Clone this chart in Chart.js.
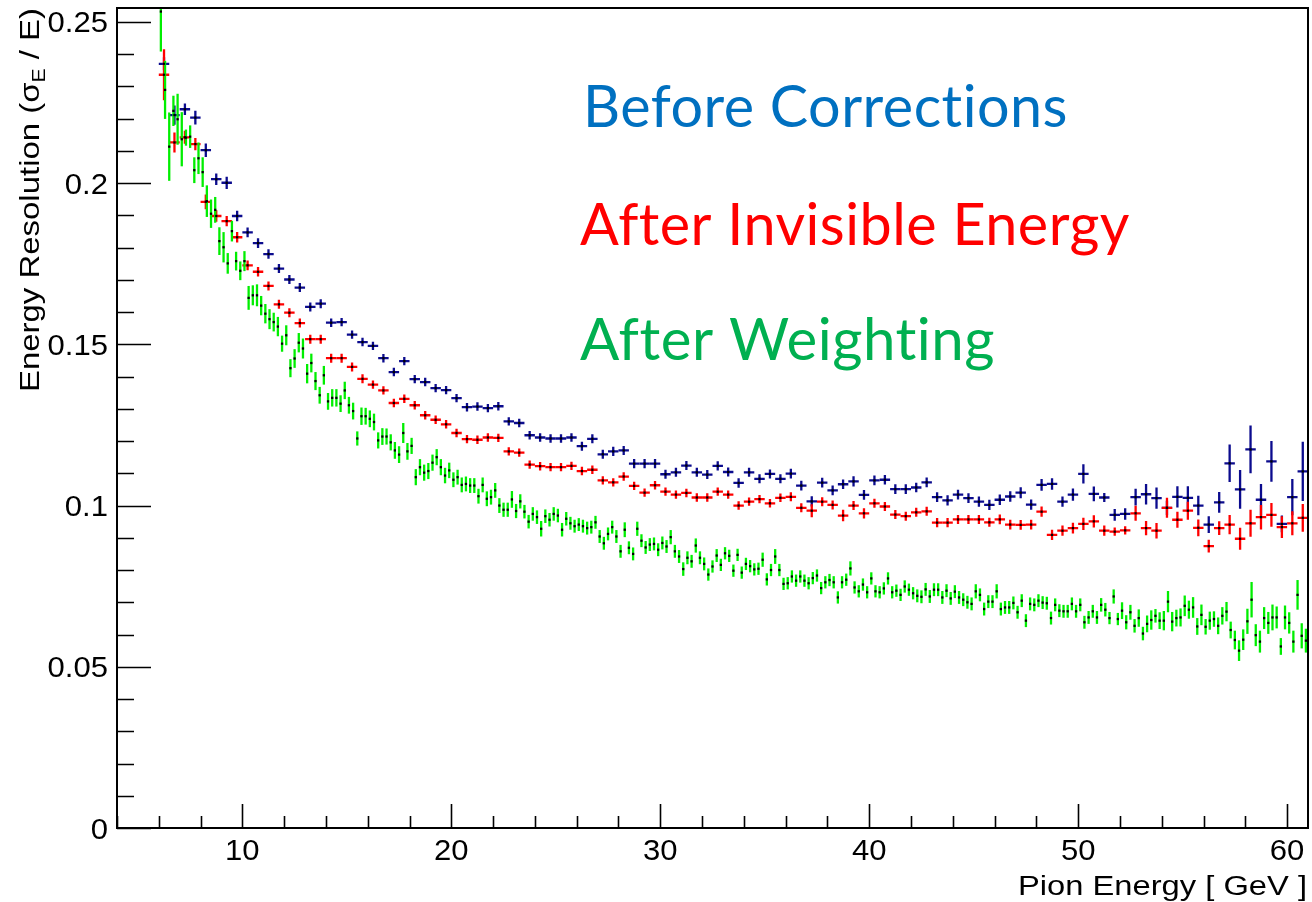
<!DOCTYPE html>
<html>
<head>
<meta charset="utf-8">
<script src="https://cdn.jsdelivr.net/npm/chart.js@4.4.1/dist/chart.umd.min.js"></script>
<style>
  html, body { margin: 0; padding: 0; background: #fff; }
  #wrap { width: 1312px; height: 902px; }
</style>
</head>
<body>
<div id="wrap"><canvas id="resChart" width="1312" height="902"></canvas></div>
<script>
// binning (GeV): blue/red histograms use 0.5 GeV bins, green uses 0.2 GeV bins, all starting at 6 GeV
const binLow = 6.0;
const coarseBinWidth = 0.5;
const fineBinWidth = 0.2;

// axis ranges and tick labels
const xRange = [4, 61];
const yRange = [0, 0.2543];
const xTickLabels = [10, 20, 30, 40, 50, 60];
const yTickLabels = [0, 0.05, 0.1, 0.15, 0.2, 0.25];
const xMinorStep = 2;
const yMinorStep = 0.01;

// Before corrections (blue), sigma_E / E per 0.5 GeV bin
const beforeRes = [
  0.2370, 0.2211, 0.2229, 0.2203, 0.2102, 0.2012, 0.2001, 0.1898, 0.1847, 0.1814,
  0.1780, 0.1735, 0.1701, 0.1676, 0.1616, 0.1626, 0.1567, 0.1569, 0.1530, 0.1507,
  0.1495, 0.1457, 0.1414, 0.1448, 0.1392, 0.1383, 0.1364, 0.1358, 0.1333, 0.1305,
  0.1307, 0.1302, 0.1308, 0.1261, 0.1256, 0.1218, 0.1211, 0.1208, 0.1208, 0.1211,
  0.1184, 0.1207, 0.1159, 0.1168, 0.1171, 0.1130, 0.1130, 0.1130, 0.1097, 0.1103,
  0.1124, 0.1103, 0.1096, 0.1123, 0.1104, 0.1070, 0.1103, 0.1083, 0.1098, 0.1083,
  0.1099, 0.1062, 0.1013, 0.1071, 0.1047, 0.1066, 0.1075, 0.1033, 0.1078, 0.1080,
  0.1051, 0.1051, 0.1056, 0.1072, 0.1026, 0.1016, 0.1034, 0.1023, 0.1012, 0.1002,
  0.1018, 0.1028, 0.1040, 0.1003, 0.1064, 0.1067, 0.1012, 0.1034, 0.1098, 0.1036,
  0.1025, 0.0971, 0.0974, 0.1026, 0.1035, 0.1023, 0.0993, 0.1027, 0.1024, 0.1000,
  0.0941, 0.1010, 0.1131, 0.1050, 0.1174, 0.1018, 0.1137, 0.0943, 0.1026, 0.1106
];
const beforeErr = [
  0.0020, 0.0030, 0.0018, 0.0021, 0.0021, 0.0018, 0.0019, 0.0016, 0.0015, 0.0015,
  0.0015, 0.0014, 0.0014, 0.0014, 0.0014, 0.0014, 0.0013, 0.0013, 0.0013, 0.0013,
  0.0013, 0.0013, 0.0013, 0.0013, 0.0013, 0.0013, 0.0013, 0.0013, 0.0013, 0.0013,
  0.0013, 0.0013, 0.0013, 0.0013, 0.0013, 0.0013, 0.0013, 0.0013, 0.0013, 0.0013,
  0.0014, 0.0014, 0.0014, 0.0014, 0.0014, 0.0014, 0.0014, 0.0014, 0.0014, 0.0014,
  0.0014, 0.0014, 0.0014, 0.0014, 0.0014, 0.0015, 0.0014, 0.0014, 0.0014, 0.0014,
  0.0015, 0.0015, 0.0016, 0.0015, 0.0015, 0.0015, 0.0016, 0.0015, 0.0015, 0.0015,
  0.0015, 0.0015, 0.0015, 0.0015, 0.0015, 0.0016, 0.0015, 0.0015, 0.0016, 0.0016,
  0.0016, 0.0016, 0.0017, 0.0016, 0.0018, 0.0018, 0.0016, 0.0019, 0.0030, 0.0023,
  0.0014, 0.0018, 0.0018, 0.0026, 0.0032, 0.0033, 0.0022, 0.0033, 0.0036, 0.0030,
  0.0026, 0.0032, 0.0058, 0.0060, 0.0074, 0.0049, 0.0063, 0.0026, 0.0056, 0.0092
];

// After invisible energy correction (red)
const invisibleRes = [
  0.2336, 0.2126, 0.2142, 0.2121, 0.1942, 0.1898, 0.1882, 0.1832, 0.1745, 0.1725,
  0.1681, 0.1624, 0.1598, 0.1566, 0.1516, 0.1516, 0.1457, 0.1457, 0.1430, 0.1393,
  0.1375, 0.1357, 0.1318, 0.1331, 0.1311, 0.1280, 0.1266, 0.1252, 0.1225, 0.1206,
  0.1204, 0.1211, 0.1210, 0.1168, 0.1164, 0.1127, 0.1122, 0.1119, 0.1119, 0.1123,
  0.1107, 0.1111, 0.1078, 0.1072, 0.1090, 0.1061, 0.1040, 0.1063, 0.1043, 0.1034,
  0.1039, 0.1025, 0.1025, 0.1043, 0.1034, 0.1000, 0.1012, 0.1020, 0.1007, 0.1024,
  0.1027, 0.0993, 0.0984, 0.1012, 0.1002, 0.0969, 0.1000, 0.0976, 0.1007, 0.0997,
  0.0972, 0.0967, 0.0979, 0.0982, 0.0947, 0.0947, 0.0957, 0.0957, 0.0957, 0.0948,
  0.0957, 0.0941, 0.0940, 0.0941, 0.0981, 0.0909, 0.0922, 0.0930, 0.0943, 0.0951,
  0.0922, 0.0919, 0.0923, 0.0976, 0.0930, 0.0922, 0.0993, 0.0956, 0.0984, 0.0931,
  0.0874, 0.0930, 0.0941, 0.0897, 0.0945, 0.0964, 0.0971, 0.0933, 0.0945, 0.0962
];
const invisibleErr = [
  0.0079, 0.0031, 0.0020, 0.0019, 0.0023, 0.0018, 0.0016, 0.0016, 0.0015, 0.0015,
  0.0014, 0.0014, 0.0014, 0.0014, 0.0014, 0.0014, 0.0014, 0.0014, 0.0014, 0.0014,
  0.0013, 0.0013, 0.0013, 0.0013, 0.0013, 0.0013, 0.0013, 0.0013, 0.0013, 0.0013,
  0.0013, 0.0013, 0.0013, 0.0013, 0.0013, 0.0013, 0.0013, 0.0013, 0.0013, 0.0013,
  0.0013, 0.0013, 0.0013, 0.0013, 0.0013, 0.0013, 0.0013, 0.0013, 0.0013, 0.0013,
  0.0013, 0.0013, 0.0013, 0.0013, 0.0013, 0.0013, 0.0013, 0.0013, 0.0013, 0.0013,
  0.0014, 0.0014, 0.0020, 0.0014, 0.0014, 0.0018, 0.0014, 0.0016, 0.0014, 0.0014,
  0.0014, 0.0014, 0.0014, 0.0014, 0.0014, 0.0014, 0.0014, 0.0014, 0.0014, 0.0014,
  0.0015, 0.0015, 0.0015, 0.0015, 0.0016, 0.0016, 0.0016, 0.0017, 0.0019, 0.0019,
  0.0016, 0.0013, 0.0013, 0.0023, 0.0022, 0.0024, 0.0031, 0.0025, 0.0028, 0.0026,
  0.0020, 0.0021, 0.0030, 0.0034, 0.0042, 0.0038, 0.0037, 0.0034, 0.0037, 0.0043
];

// After weighting (green), sigma_E / E per 0.2 GeV bin
const weightedRes = [
  0.2532, 0.2289, 0.2113, 0.2224, 0.2198, 0.2136, 0.2141, 0.2144, 0.2040, 0.2077,
  0.2034, 0.1944, 0.1905, 0.1917, 0.1820, 0.1801, 0.1751, 0.1851, 0.1758, 0.1728,
  0.1758, 0.1644, 0.1652, 0.1652, 0.1620, 0.1595, 0.1578, 0.1569, 0.1555, 0.1502,
  0.1528, 0.1426, 0.1456, 0.1505, 0.1487, 0.1409, 0.1442, 0.1386, 0.1342, 0.1404,
  0.1323, 0.1334, 0.1334, 0.1316, 0.1357, 0.1311, 0.1293, 0.1208, 0.1277, 0.1277,
  0.1269, 0.1259, 0.1202, 0.1214, 0.1214, 0.1196, 0.1171, 0.1158, 0.1225, 0.1168,
  0.1185, 0.1088, 0.1119, 0.1102, 0.1107, 0.1133, 0.1150, 0.1119, 0.1093, 0.1109,
  0.1080, 0.1088, 0.1064, 0.1067, 0.1062, 0.1062, 0.1029, 0.1064, 0.1021, 0.1026,
  0.1047, 0.1000, 0.0987, 0.0987, 0.1019, 0.0983, 0.1013, 0.0981, 0.0950, 0.0974,
  0.0964, 0.0928, 0.0967, 0.0956, 0.0974, 0.0969, 0.0925, 0.0959, 0.0945, 0.0936,
  0.0941, 0.0936, 0.0930, 0.0933, 0.0948, 0.0904, 0.0883, 0.0912, 0.0933, 0.0904,
  0.0858, 0.0925, 0.0869, 0.0850, 0.0928, 0.0891, 0.0870, 0.0879, 0.0881, 0.0863,
  0.0884, 0.0873, 0.0902, 0.0858, 0.0842, 0.0803, 0.0838, 0.0827, 0.0876, 0.0838,
  0.0819, 0.0786, 0.0811, 0.0845, 0.0816, 0.0852, 0.0844, 0.0798, 0.0847, 0.0792,
  0.0819, 0.0812, 0.0802, 0.0804, 0.0832, 0.0771, 0.0800, 0.0842, 0.0800, 0.0757,
  0.0759, 0.0780, 0.0767, 0.0780, 0.0767, 0.0759, 0.0775, 0.0783, 0.0744, 0.0762,
  0.0769, 0.0762, 0.0715, 0.0762, 0.0770, 0.0805, 0.0746, 0.0734, 0.0755, 0.0731,
  0.0774, 0.0734, 0.0731, 0.0743, 0.0774, 0.0731, 0.0736, 0.0723, 0.0749, 0.0739,
  0.0728, 0.0720, 0.0717, 0.0740, 0.0718, 0.0739, 0.0739, 0.0715, 0.0736, 0.0712,
  0.0733, 0.0715, 0.0708, 0.0700, 0.0695, 0.0734, 0.0723, 0.0679, 0.0702, 0.0702,
  0.0734, 0.0679, 0.0684, 0.0684, 0.0698, 0.0669, 0.0705, 0.0643, 0.0695, 0.0692,
  0.0705, 0.0699, 0.0697, 0.0651, 0.0692, 0.0674, 0.0672, 0.0672, 0.0695, 0.0672,
  0.0692, 0.0638, 0.0653, 0.0672, 0.0653, 0.0692, 0.0677, 0.0651, 0.0718, 0.0648,
  0.0674, 0.0638, 0.0669, 0.0627, 0.0651, 0.0603, 0.0633, 0.0645, 0.0658, 0.0643,
  0.0643, 0.0702, 0.0640, 0.0651, 0.0653, 0.0689, 0.0677, 0.0684, 0.0625, 0.0661,
  0.0624, 0.0643, 0.0648, 0.0627, 0.0658, 0.0671, 0.0614, 0.0583, 0.0550, 0.0584,
  0.0641, 0.0708, 0.0598, 0.0578, 0.0651, 0.0636, 0.0653, 0.0653, 0.0563, 0.0653,
  0.0636, 0.0578, 0.0723, 0.0596, 0.0581
];
const weightedErr = [
  0.0124, 0.0090, 0.0106, 0.0047, 0.0079, 0.0084, 0.0025, 0.0035, 0.0040, 0.0049,
  0.0046, 0.0049, 0.0044, 0.0040, 0.0043, 0.0047, 0.0032, 0.0032, 0.0029, 0.0029,
  0.0031, 0.0037, 0.0031, 0.0034, 0.0030, 0.0030, 0.0031, 0.0029, 0.0030, 0.0025,
  0.0031, 0.0028, 0.0029, 0.0030, 0.0031, 0.0030, 0.0029, 0.0028, 0.0026, 0.0029,
  0.0026, 0.0027, 0.0027, 0.0026, 0.0027, 0.0026, 0.0026, 0.0022, 0.0027, 0.0026,
  0.0026, 0.0026, 0.0025, 0.0026, 0.0025, 0.0025, 0.0026, 0.0026, 0.0031, 0.0026,
  0.0025, 0.0025, 0.0025, 0.0025, 0.0025, 0.0025, 0.0025, 0.0025, 0.0024, 0.0024,
  0.0023, 0.0023, 0.0023, 0.0023, 0.0023, 0.0023, 0.0023, 0.0023, 0.0023, 0.0023,
  0.0023, 0.0023, 0.0022, 0.0022, 0.0026, 0.0022, 0.0022, 0.0021, 0.0021, 0.0021,
  0.0021, 0.0024, 0.0021, 0.0021, 0.0021, 0.0021, 0.0021, 0.0021, 0.0020, 0.0020,
  0.0020, 0.0020, 0.0020, 0.0020, 0.0020, 0.0020, 0.0020, 0.0020, 0.0020, 0.0020,
  0.0020, 0.0023, 0.0020, 0.0020, 0.0022, 0.0020, 0.0020, 0.0020, 0.0020, 0.0020,
  0.0020, 0.0020, 0.0022, 0.0020, 0.0020, 0.0021, 0.0020, 0.0020, 0.0022, 0.0020,
  0.0020, 0.0019, 0.0019, 0.0020, 0.0019, 0.0019, 0.0019, 0.0019, 0.0019, 0.0019,
  0.0019, 0.0019, 0.0019, 0.0019, 0.0022, 0.0019, 0.0019, 0.0023, 0.0019, 0.0019,
  0.0019, 0.0019, 0.0019, 0.0019, 0.0019, 0.0019, 0.0019, 0.0019, 0.0019, 0.0019,
  0.0019, 0.0019, 0.0019, 0.0019, 0.0019, 0.0022, 0.0019, 0.0019, 0.0019, 0.0019,
  0.0019, 0.0019, 0.0019, 0.0019, 0.0019, 0.0019, 0.0019, 0.0019, 0.0019, 0.0019,
  0.0019, 0.0020, 0.0020, 0.0020, 0.0020, 0.0020, 0.0020, 0.0020, 0.0020, 0.0020,
  0.0020, 0.0020, 0.0020, 0.0020, 0.0020, 0.0022, 0.0020, 0.0020, 0.0020, 0.0020,
  0.0022, 0.0020, 0.0020, 0.0020, 0.0020, 0.0020, 0.0020, 0.0020, 0.0020, 0.0020,
  0.0020, 0.0020, 0.0020, 0.0020, 0.0020, 0.0020, 0.0020, 0.0020, 0.0020, 0.0020,
  0.0020, 0.0020, 0.0020, 0.0020, 0.0020, 0.0021, 0.0021, 0.0019, 0.0022, 0.0019,
  0.0026, 0.0022, 0.0023, 0.0021, 0.0027, 0.0021, 0.0026, 0.0030, 0.0021, 0.0026,
  0.0030, 0.0033, 0.0030, 0.0026, 0.0028, 0.0032, 0.0028, 0.0032, 0.0026, 0.0032,
  0.0024, 0.0028, 0.0024, 0.0026, 0.0027, 0.0030, 0.0026, 0.0029, 0.0032, 0.0032,
  0.0039, 0.0055, 0.0034, 0.0034, 0.0034, 0.0034, 0.0040, 0.0034, 0.0026, 0.0037,
  0.0033, 0.0034, 0.0046, 0.0039, 0.0037
];

const blueColor = '#0b0b8e';
const redColor = '#ff0000';
const greenColor = '#00ee00';

function histPoints(values, errors, width, showXErr) {
  return values.map((v, i) => ({
    x: binLow + width * (i + 0.5),
    y: v,
    err: errors[i],
    xerr: showXErr ? width / 2 : 0
  }));
}

const datasets = [
  { label: 'Before Corrections', data: histPoints(beforeRes, beforeErr, coarseBinWidth, true), barColor: blueColor },
  { label: 'After Invisible Energy', data: histPoints(invisibleRes, invisibleErr, coarseBinWidth, true), barColor: redColor },
  { label: 'After Weighting', data: histPoints(weightedRes, weightedErr, fineBinWidth, false), barColor: greenColor }
].map(ds => Object.assign(ds, {
  pointStyle: 'rect',
  pointRadius: 1.6,
  pointBorderWidth: 0,
  pointBackgroundColor: '#000',
  showLine: false
}));

// text drawn horizontally stretched to a target width (ROOT / PowerPoint look)
function fitText(ctx, str, x, y, font, color, align, width, spacing) {
  ctx.save();
  ctx.font = font;
  ctx.fillStyle = color;
  ctx.textBaseline = 'alphabetic';
  ctx.textAlign = align;
  // a small letter spacing also stops the browser from forming "ti" ligatures
  if (spacing && 'letterSpacing' in ctx) ctx.letterSpacing = spacing;
  const w = ctx.measureText(str).width;
  const sx = width ? width / w : 1;
  ctx.translate(x, y);
  ctx.scale(sx, 1);
  ctx.fillText(str, 0, 0);
  ctx.restore();
}

const errorBars = {
  id: 'errorBars',
  beforeDatasetsDraw(chart) {
    const { ctx, chartArea: a, scales: { x, y } } = chart;
    ctx.save();
    ctx.beginPath();
    ctx.rect(a.left, a.top, a.right - a.left, a.bottom - a.top);
    ctx.clip();
    ctx.lineCap = 'butt';
    chart.data.datasets.forEach(ds => {
      ctx.strokeStyle = ds.barColor;
      ctx.lineWidth = 2.3;
      ds.data.forEach(p => {
        const px = x.getPixelForValue(p.x);
        const py = y.getPixelForValue(p.y);
        ctx.beginPath();
        ctx.moveTo(px, y.getPixelForValue(p.y - p.err));
        ctx.lineTo(px, y.getPixelForValue(p.y + p.err));
        if (p.xerr) {
          ctx.moveTo(x.getPixelForValue(p.x - p.xerr), py);
          ctx.lineTo(x.getPixelForValue(p.x + p.xerr), py);
        }
        ctx.stroke();
      });
    });
    ctx.restore();
  }
};

const rootFrame = {
  id: 'rootFrame',
  afterDraw(chart) {
    const { ctx, chartArea: a, scales: { x, y } } = chart;
    ctx.save();
    ctx.strokeStyle = '#000';
    ctx.lineWidth = 2;
    ctx.strokeRect(a.left, a.top, a.right - a.left, a.bottom - a.top);

    // inward ticks
    ctx.lineWidth = 1.6;
    ctx.beginPath();
    for (let v = yRange[0]; v <= yRange[1] + 1e-9; v += yMinorStep) {
      const py = Math.round(y.getPixelForValue(v)) + 0.5;
      const major = Math.abs(v / 0.05 - Math.round(v / 0.05)) < 1e-6;
      ctx.moveTo(a.left, py);
      ctx.lineTo(a.left + (major ? 34 : 17), py);
    }
    for (let v = Math.ceil(xRange[0] / xMinorStep) * xMinorStep; v <= xRange[1]; v += xMinorStep) {
      const px = Math.round(x.getPixelForValue(v)) + 0.5;
      const major = v % 10 === 0;
      ctx.moveTo(px, a.bottom);
      ctx.lineTo(px, a.bottom - (major ? 24 : 12));
    }
    ctx.stroke();

    // tick labels
    const labelFont = '29px "Liberation Sans", Arial, sans-serif';
    yTickLabels.forEach(v => {
      const str = String(+v.toFixed(2));
      ctx.font = labelFont;
      const w = ctx.measureText(str).width * 1.07;
      fitText(ctx, str, 108, y.getPixelForValue(v) + 10.5, labelFont, '#000', 'right', w);
    });
    xTickLabels.forEach(v => {
      const str = String(v);
      ctx.font = labelFont;
      const w = ctx.measureText(str).width * 1.07;
      fitText(ctx, str, x.getPixelForValue(v), 860, labelFont, '#000', 'center', w);
    });

    // x title
    fitText(ctx, 'Pion Energy [ GeV ]', 1307, 895, '27px "Liberation Sans", Arial, sans-serif', '#000', 'right', 289);

    // y title, rotated, with subscript
    const tf = '28px "Liberation Sans", Arial, sans-serif';
    const sf = '18px "Liberation Sans", Arial, sans-serif';
    const parts = [['Energy Resolution (\u03c3', tf, 0], ['E', sf, 6], [' / E)', tf, 0]];
    let total = 0;
    parts.forEach(p => { ctx.font = p[1]; total += ctx.measureText(p[0]).width; });
    const stretch = 384 / total;
    ctx.save();
    ctx.translate(39, 8);
    ctx.rotate(-Math.PI / 2);
    ctx.scale(stretch, 1);
    ctx.fillStyle = '#000';
    ctx.textBaseline = 'alphabetic';
    ctx.textAlign = 'left';
    let cx = -total;
    parts.forEach(p => {
      ctx.font = p[1];
      ctx.fillText(p[0], cx, p[2]);
      cx += ctx.measureText(p[0]).width;
    });
    ctx.restore();

    // annotations
    const af = '58px Lato, "Open Sans", sans-serif';
    fitText(ctx, 'Before Corrections', 583, 127, af, '#0070c0', 'left', 485, '0.5px');
    fitText(ctx, 'After Invisible Energy', 580, 245, af, '#ff0000', 'left', 550, '0.5px');
    fitText(ctx, 'After Weighting', 580, 360, af, '#00b050', 'left', 415, '0.5px');
    ctx.restore();
  }
};

new Chart(document.getElementById('resChart'), {
  type: 'scatter',
  data: { datasets: datasets },
  options: {
    responsive: false,
    animation: false,
    devicePixelRatio: 1,
    layout: { padding: { left: 117, right: 4, top: 8, bottom: 74 } },
    plugins: { legend: { display: false }, tooltip: { enabled: false } },
    scales: {
      x: { type: 'linear', min: xRange[0], max: xRange[1], display: false },
      y: { type: 'linear', min: yRange[0], max: yRange[1], display: false }
    }
  },
  plugins: [errorBars, rootFrame]
});
</script>
</body>
</html>
